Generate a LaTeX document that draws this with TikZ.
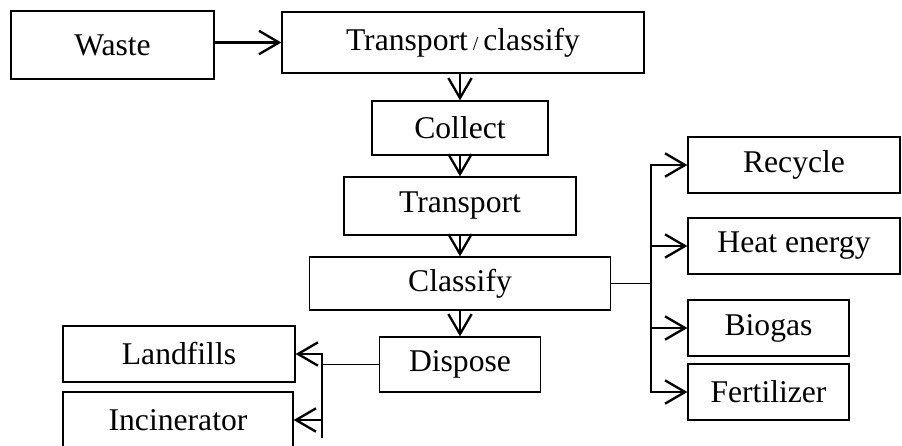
\documentclass[tikz,border=0pt]{standalone}
\usepackage{fontspec}
\setmainfont{Liberation Serif}
\usepackage{tikz}
\usetikzlibrary{positioning, arrows.meta, calc}

\begin{document}
\begin{tikzpicture}[
      every node/.style={font=\fontsize{27}{32}\selectfont},
      stage/.style={draw, line width=1.1pt, rectangle, inner sep=0pt, align=center},
      arr/.style={-{Straight Barb[length=6mm, width=7mm]}, line width=2pt},
      link/.style={line width=1.1pt},
    ]
    \useasboundingbox (0,0) rectangle (27.06,-13.35);

    % Top row
    \node[stage, minimum width=6.09cm, minimum height=2.04cm] (waste) at (3.375,-1.35) {Waste};
    \node[stage, minimum width=10.86cm, minimum height=1.83cm] (tc) at (13.89,-1.275)
      {Transport{\fontsize{17}{17}\selectfont{} / }classify};

    % Main column
    \node[stage, minimum width=5.28cm, minimum height=1.62cm] (collect) at (13.8,-3.84) {Collect};
    \node[stage, minimum width=6.96cm, minimum height=1.74cm] (transport) at (13.8,-6.18) {Transport};
    \node[stage, minimum width=9.03cm, minimum height=1.59cm] (classify) at (13.8,-8.505) {Classify};
    \node[stage, minimum width=4.83cm, minimum height=1.65cm] (dispose) at (13.8,-10.935) {Dispose};

    % Disposal
    \node[stage, minimum width=6.96cm, minimum height=1.68cm] (landfills) at (5.37,-10.62) {Landfills};
    \node[stage, minimum width=6.9cm, minimum height=1.68cm] (incinerator) at (5.34,-12.6) {Incinerator};

    % Reuse
    \node[stage, minimum width=6.36cm, minimum height=1.68cm] (recycle) at (23.82,-4.95) {Recycle};
    \node[stage, minimum width=6.36cm, minimum height=1.68cm] (heat) at (23.82,-7.38) {Heat energy};
    \node[stage, minimum width=4.83cm, minimum height=1.68cm] (biogas) at (23.055,-9.84) {Biogas};
    \node[stage, minimum width=4.83cm, minimum height=1.68cm] (fertilizer) at (23.055,-11.76) {Fertilizer};

    % Arrows down the column
    \draw[arr] (waste.east |- tc.west) -- (tc.west);
    \draw[arr] (tc.south -| collect.north) -- (collect.north);
    \draw[arr] (collect) -- (transport);
    \draw[arr] (transport) -- (classify);
    \draw[arr] (classify) -- (dispose);

    % Branch to the right
    \coordinate (jr) at ($(classify.east)+(1.2,0)$);
    \draw[link] (classify.east) -- (jr);
    \foreach \t in {recycle, heat, biogas, fertilizer}
      \draw[arr] (jr) |- (\t.west);

    % Branch to the left
    \coordinate (jl) at ($(dispose.west)+(-1.71,0)$);
    \coordinate (jlend) at ($(jl |- incinerator.east)+(0,-0.55)$);
    \draw[link] (dispose.west) -- (jl);
    \draw[link] (jl) -- (jlend);
    \draw[arr] (jl) |- (landfills.east);
    \draw[arr] (jl) |- (incinerator.east);
  \end{tikzpicture}
\end{document}
